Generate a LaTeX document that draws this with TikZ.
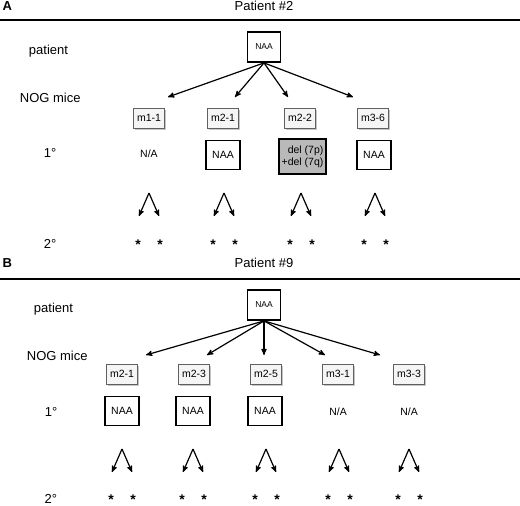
\documentclass[tikz,border=0pt]{standalone}
\usepackage{fontspec}
\setmainfont{Liberation Sans}
\usetikzlibrary{arrows,shadows}

\begin{document}
\begin{tikzpicture}[->,>=stealth',x=1pt,y=-1pt,line width=1.2pt,
    patient node/.style={draw,line width=1.8pt,minimum width=33pt,minimum height=30pt,inner sep=0pt,
                         font=\fontsize{8.5}{9}\selectfont},
    mouse node/.style={draw=gray!75!black,line width=0.6pt,fill=gray!8,minimum width=31pt,minimum height=20pt,
                       inner sep=0pt,font=\fontsize{10.5}{12}\selectfont,
                       drop shadow={opacity=0.45,shadow xshift=1.5pt,shadow yshift=-1.5pt}},
    result node/.style={draw,line width=1.8pt,minimum width=34pt,minimum height=29pt,inner sep=0pt,
                        font=\fontsize{10.5}{12}\selectfont},
    plain node/.style={font=\fontsize{10.5}{12}\selectfont},
    row label/.style={anchor=west,font=\fontsize{13}{15}\selectfont},
    star node/.style={anchor=base,inner sep=0pt,font=\fontsize{14}{15}\selectfont\bfseries},
    panel label/.style={anchor=west,inner sep=0pt,font=\fontsize{13}{15}\selectfont\bfseries}]

  \useasboundingbox (0,0) rectangle (520,506);

  % panel A
  \node[panel label] (lA) at (2,6) {A};
  \node[font=\fontsize{13}{15}\selectfont] (tA) at (264,6) {Patient \#2};
  \draw[-,line width=1.5pt] (0,20) -- (520,20);

  \node[row label] (rA1) at (25,51) {patient};
  \node[row label] (rA2) at (16,98) {NOG mice};
  \node[row label] (rA3) at (40,153) {1°};
  \node[row label,anchor=base west] (rA4) at (40,248) {2°};

  \node[patient node] (pA) at (264,47) {NAA};

  \coordinate (eA1) at (168,97);
  \coordinate (eA2) at (235,97);
  \coordinate (eA3) at (288,97);
  \coordinate (eA4) at (353,97);
  \path (pA.south) edge (eA1) edge (eA2) edge (eA3) edge (eA4);

  \node[mouse node] (mA1) at (149,118) {m1-1};
  \node[mouse node] (mA2) at (223,118) {m2-1};
  \node[mouse node] (mA3) at (300,118) {m2-2};
  \node[mouse node] (mA4) at (373,118) {m3-6};

  \node[plain node]  (xA1) at (149,154) {N/A};
  \node[result node] (xA2) at (223,155) {NAA};
  \node[result node,fill=gray!55,minimum width=47pt,minimum height=35pt,align=right]
                     (xA3) at (302.5,156.5) {del (7p)\\+del (7q)};
  \node[result node] (xA4) at (374,155) {NAA};

  \foreach \c/\n in {149/1,224/2,301/3,375/4} {
    \coordinate (fA\n) at (\c,193);
    \coordinate (lA\n) at (\c-10,216);
    \coordinate (gA\n) at (\c+10,216);
    \path (fA\n) edge (lA\n) edge (gA\n);
    \node[star node] (sA\n) at (\c-11,249) {*};
    \node[star node] (tA\n) at (\c+11,249) {*};
  }

  % panel B
  \node[panel label] (lB) at (2,263) {B};
  \node[font=\fontsize{13}{15}\selectfont] (tB) at (264,263) {Patient \#9};
  \draw[-,line width=1.5pt] (0,279) -- (520,279);

  \node[row label] (rB1) at (30,309) {patient};
  \node[row label] (rB2) at (23,356) {NOG mice};
  \node[row label] (rB3) at (41,412) {1°};
  \node[row label,anchor=base west,inner sep=0pt] (rB4) at (44,503.5) {2°};

  \node[patient node] (pB) at (264,305) {NAA};

  \coordinate (eB1) at (146,355);
  \coordinate (eB2) at (207,355);
  \coordinate (eB3) at (264,355);
  \coordinate (eB4) at (325,355);
  \coordinate (eB5) at (380,355);
  \path (pB.south) edge (eB1) edge (eB2) edge (eB3) edge (eB4) edge (eB5);

  \node[mouse node] (mB1) at (122,374) {m2-1};
  \node[mouse node] (mB2) at (194,374) {m2-3};
  \node[mouse node] (mB3) at (266,374) {m2-5};
  \node[mouse node] (mB4) at (338,374) {m3-1};
  \node[mouse node] (mB5) at (409,374) {m3-3};

  \node[result node] (xB1) at (122,411) {NAA};
  \node[result node] (xB2) at (193,411) {NAA};
  \node[result node] (xB3) at (265,411) {NAA};
  \node[plain node]  (xB4) at (338,412) {N/A};
  \node[plain node]  (xB5) at (409,412) {N/A};

  \foreach \c/\n in {122/1,193/2,266/3,339/4,409/5} {
    \coordinate (fB\n) at (\c,449);
    \coordinate (lB\n) at (\c-10,472);
    \coordinate (gB\n) at (\c+10,472);
    \path (fB\n) edge (lB\n) edge (gB\n);
    \node[star node] (sB\n) at (\c-11,504.5) {*};
    \node[star node] (tB\n) at (\c+11,504.5) {*};
  }
\end{tikzpicture}
\end{document}
